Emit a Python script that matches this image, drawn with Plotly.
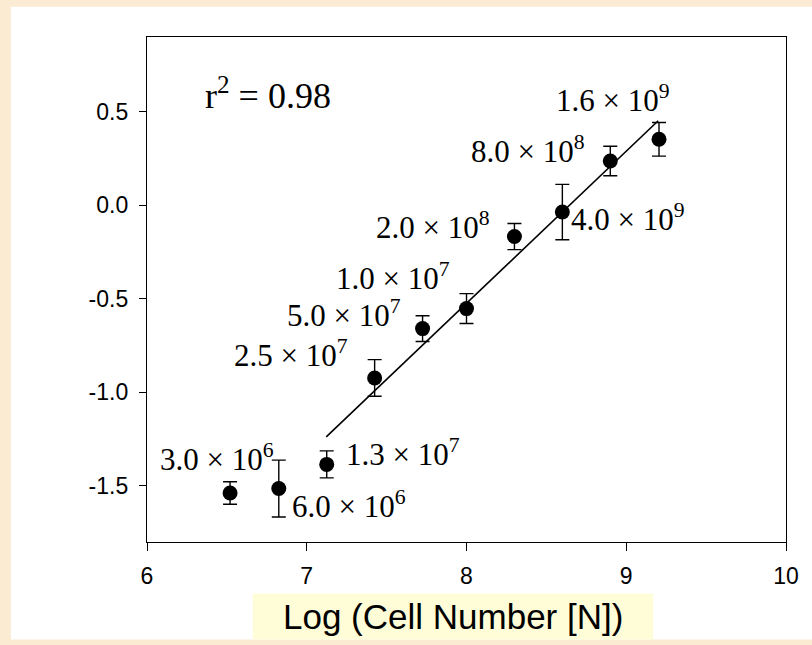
import plotly.graph_objects as go

# ---- data ----
log_n = [6.52, 6.825, 7.125, 7.425, 7.725, 8.0, 8.30, 8.60, 8.90, 9.205]
resp = [-1.538, -1.514, -1.385, -0.923, -0.659, -0.552, -0.167, -0.036, 0.237, 0.353]
err = [0.060, 0.152, 0.072, 0.098, 0.069, 0.080, 0.070, 0.148, 0.079, 0.090]
cell_labels = ["3.0 × 10<sup>6</sup>", "6.0 × 10<sup>6</sup>", "1.3 × 10<sup>7</sup>",
               "2.5 × 10<sup>7</sup>", "5.0 × 10<sup>7</sup>", "1.0 × 10<sup>7</sup>",
               "2.0 × 10<sup>8</sup>", "4.0 × 10<sup>9</sup>", "8.0 × 10<sup>8</sup>",
               "1.6 × 10<sup>9</sup>"]
fit_x = [7.122, 9.20]
fit_y = [-1.238, 0.452]
r2_text = "r<sup>2</sup> = 0.98"
x_ticks = [6, 7, 8, 9, 10]
y_ticks = [-1.5, -1.0, -0.5, 0.0, 0.5]
y_tick_text = ["-1.5", "-1.0", "-0.5", "0.0", "0.5"]
x_title = "Log (Cell Number [N])"

# label placement relative to each point (pixels): anchor, xshift, yshift
label_pos = [("right", 46, 36), ("left", 11, -16), ("left", 17, 12),
             ("right", -25, 24), ("right", -20, 15), ("right", -15, 32),
             ("right", -22, 11), ("left", 7, -5), ("right", -23, 12),
             ("center", -46, 41)]

fig = go.Figure()
fig.add_trace(go.Scatter(x=fit_x, y=fit_y, mode="lines",
                         line=dict(color="black", width=1.6), hoverinfo="skip",
                         showlegend=False))
fig.add_trace(go.Scatter(
    x=log_n, y=resp, mode="markers",
    marker=dict(color="black", size=15),
    error_y=dict(type="data", array=err, visible=True, color="black",
                 thickness=1.4, width=7),
    showlegend=False))

serif = "Liberation Serif, Times New Roman, serif"
for xv, yv, txt, (anc, dx, dy) in zip(log_n, resp, cell_labels, label_pos):
    fig.add_annotation(x=xv, y=yv, xref="x", yref="y", text=txt, showarrow=False,
                       xanchor=anc, yanchor="middle", xshift=dx, yshift=dy,
                       font=dict(family=serif, size=31, color="black"))

fig.add_annotation(x=0.087, y=0.889, xref="paper", yref="paper", text=r2_text,
                   showarrow=False, xanchor="left", yanchor="middle",
                   font=dict(family=serif, size=36, color="black"))

# white slide panel and yellow title box
fig.add_shape(type="rect", xref="paper", yref="paper", x0=-0.213, x1=1.05,
              y0=-0.193, y1=1.060, fillcolor="white", line=dict(width=0),
              layer="below")
fig.add_shape(type="rect", xref="paper", yref="paper", x0=0.1656, x1=0.792,
              y0=-0.193, y1=-0.102, fillcolor="#FFFDD8", line=dict(width=0),
              layer="below")
fig.add_annotation(x=0.479, y=-0.147, xref="paper", yref="paper", text=x_title,
                   showarrow=False, xanchor="center", yanchor="middle",
                   font=dict(family="Liberation Sans, Arial, sans-serif", size=35,
                             color="black"))

axis_common = dict(showgrid=False, zeroline=False, showline=True, linecolor="black",
                   linewidth=1.3, mirror=True, ticks="outside", ticklen=8,
                   tickwidth=1.3, tickcolor="black",
                   tickfont=dict(family="Liberation Sans, Arial, sans-serif",
                                 size=23, color="black"))
fig.update_xaxes(range=[6, 10], tickvals=x_ticks, **axis_common)
fig.update_yaxes(range=[-1.8, 0.9], tickvals=y_ticks, ticktext=y_tick_text,
                 **axis_common)
fig.update_xaxes(ticklabelstandoff=5)
fig.update_yaxes(ticklen=7, ticklabelstandoff=6)

fig.update_layout(width=812, height=645,
                  margin=dict(l=147, r=26, t=37, b=103),
                  paper_bgcolor="#FAEBD2", plot_bgcolor="white")

fig.write_html("out.html")
